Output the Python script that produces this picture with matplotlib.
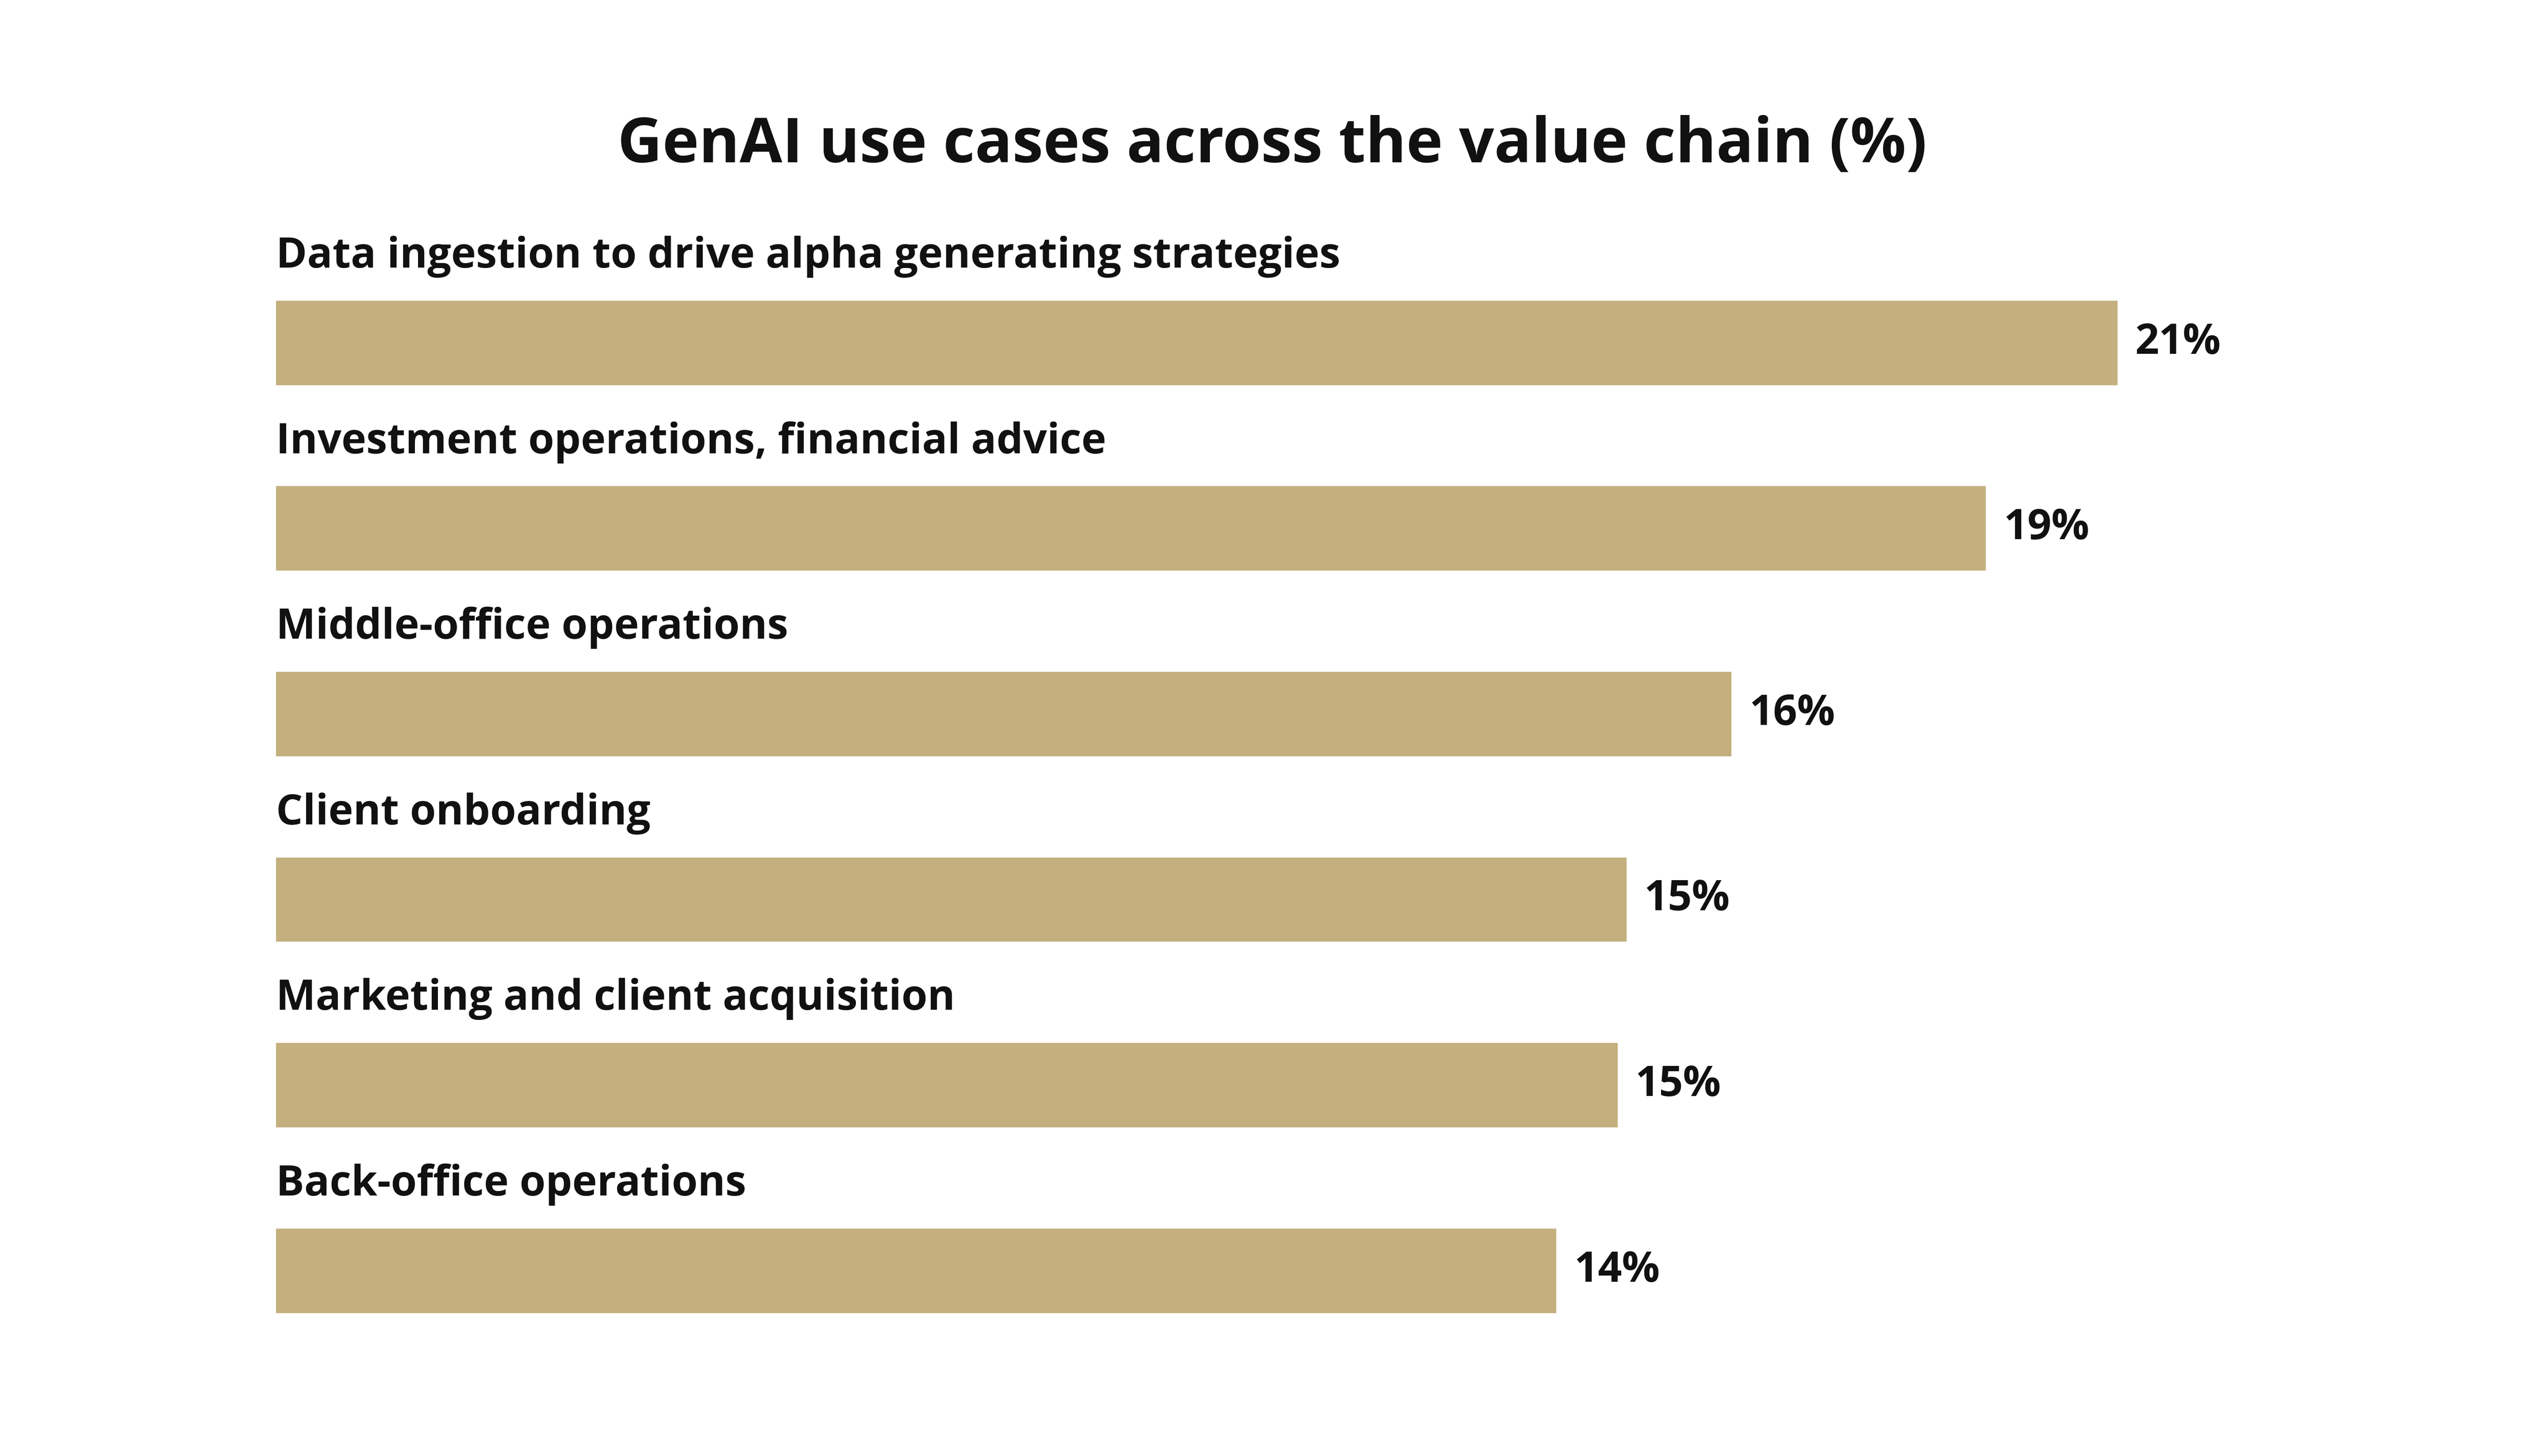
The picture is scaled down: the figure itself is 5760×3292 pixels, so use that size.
import matplotlib
matplotlib.use("Agg")
import matplotlib.pyplot as plt

categories = ["Data ingestion to drive alpha generating strategies",
              "Investment operations, financial advice",
              "Middle-office operations",
              "Client onboarding",
              "Marketing and client acquisition",
              "Back-office operations"]
values = [21.0, 19.5, 16.6, 15.4, 15.3, 14.6]
value_labels = ["21%", "19%", "16%", "15%", "15%", "14%"]

W, H = 1568, 896
fig = plt.figure(figsize=(16, 16 * 3292 / 5760), dpi=360)
ax = fig.add_axes([170 / W, 1 - 839.1 / H, 1133 / W, 685.2 / H])
ax.set_xlim(0, 21)
ax.set_ylim(5.5, -0.5)
ax.axis("off")
font = "Open Sans"
ys = list(range(len(categories)))
ax.barh(ys, values, height=0.455, color="#C4B07E")
for y, v, c, l in zip(ys, values, categories, value_labels):
    ax.text(0, y - 0.464, c, ha="left", va="center", fontsize=19,
            fontweight="bold", family=font, color="#111111")
    ax.annotate(l, (v, y), xytext=(8, 0), textcoords="offset points",
                ha="left", va="center", fontsize=19, fontweight="bold",
                family=font, color="#111111")
fig.text(783 / W, 1 - 90 / H, "GenAI use cases across the value chain (%)",
         ha="center", va="center", fontsize=28, fontweight="bold",
         family=font, color="#111111")
fig.savefig("out.png", dpi=360, facecolor="white")
